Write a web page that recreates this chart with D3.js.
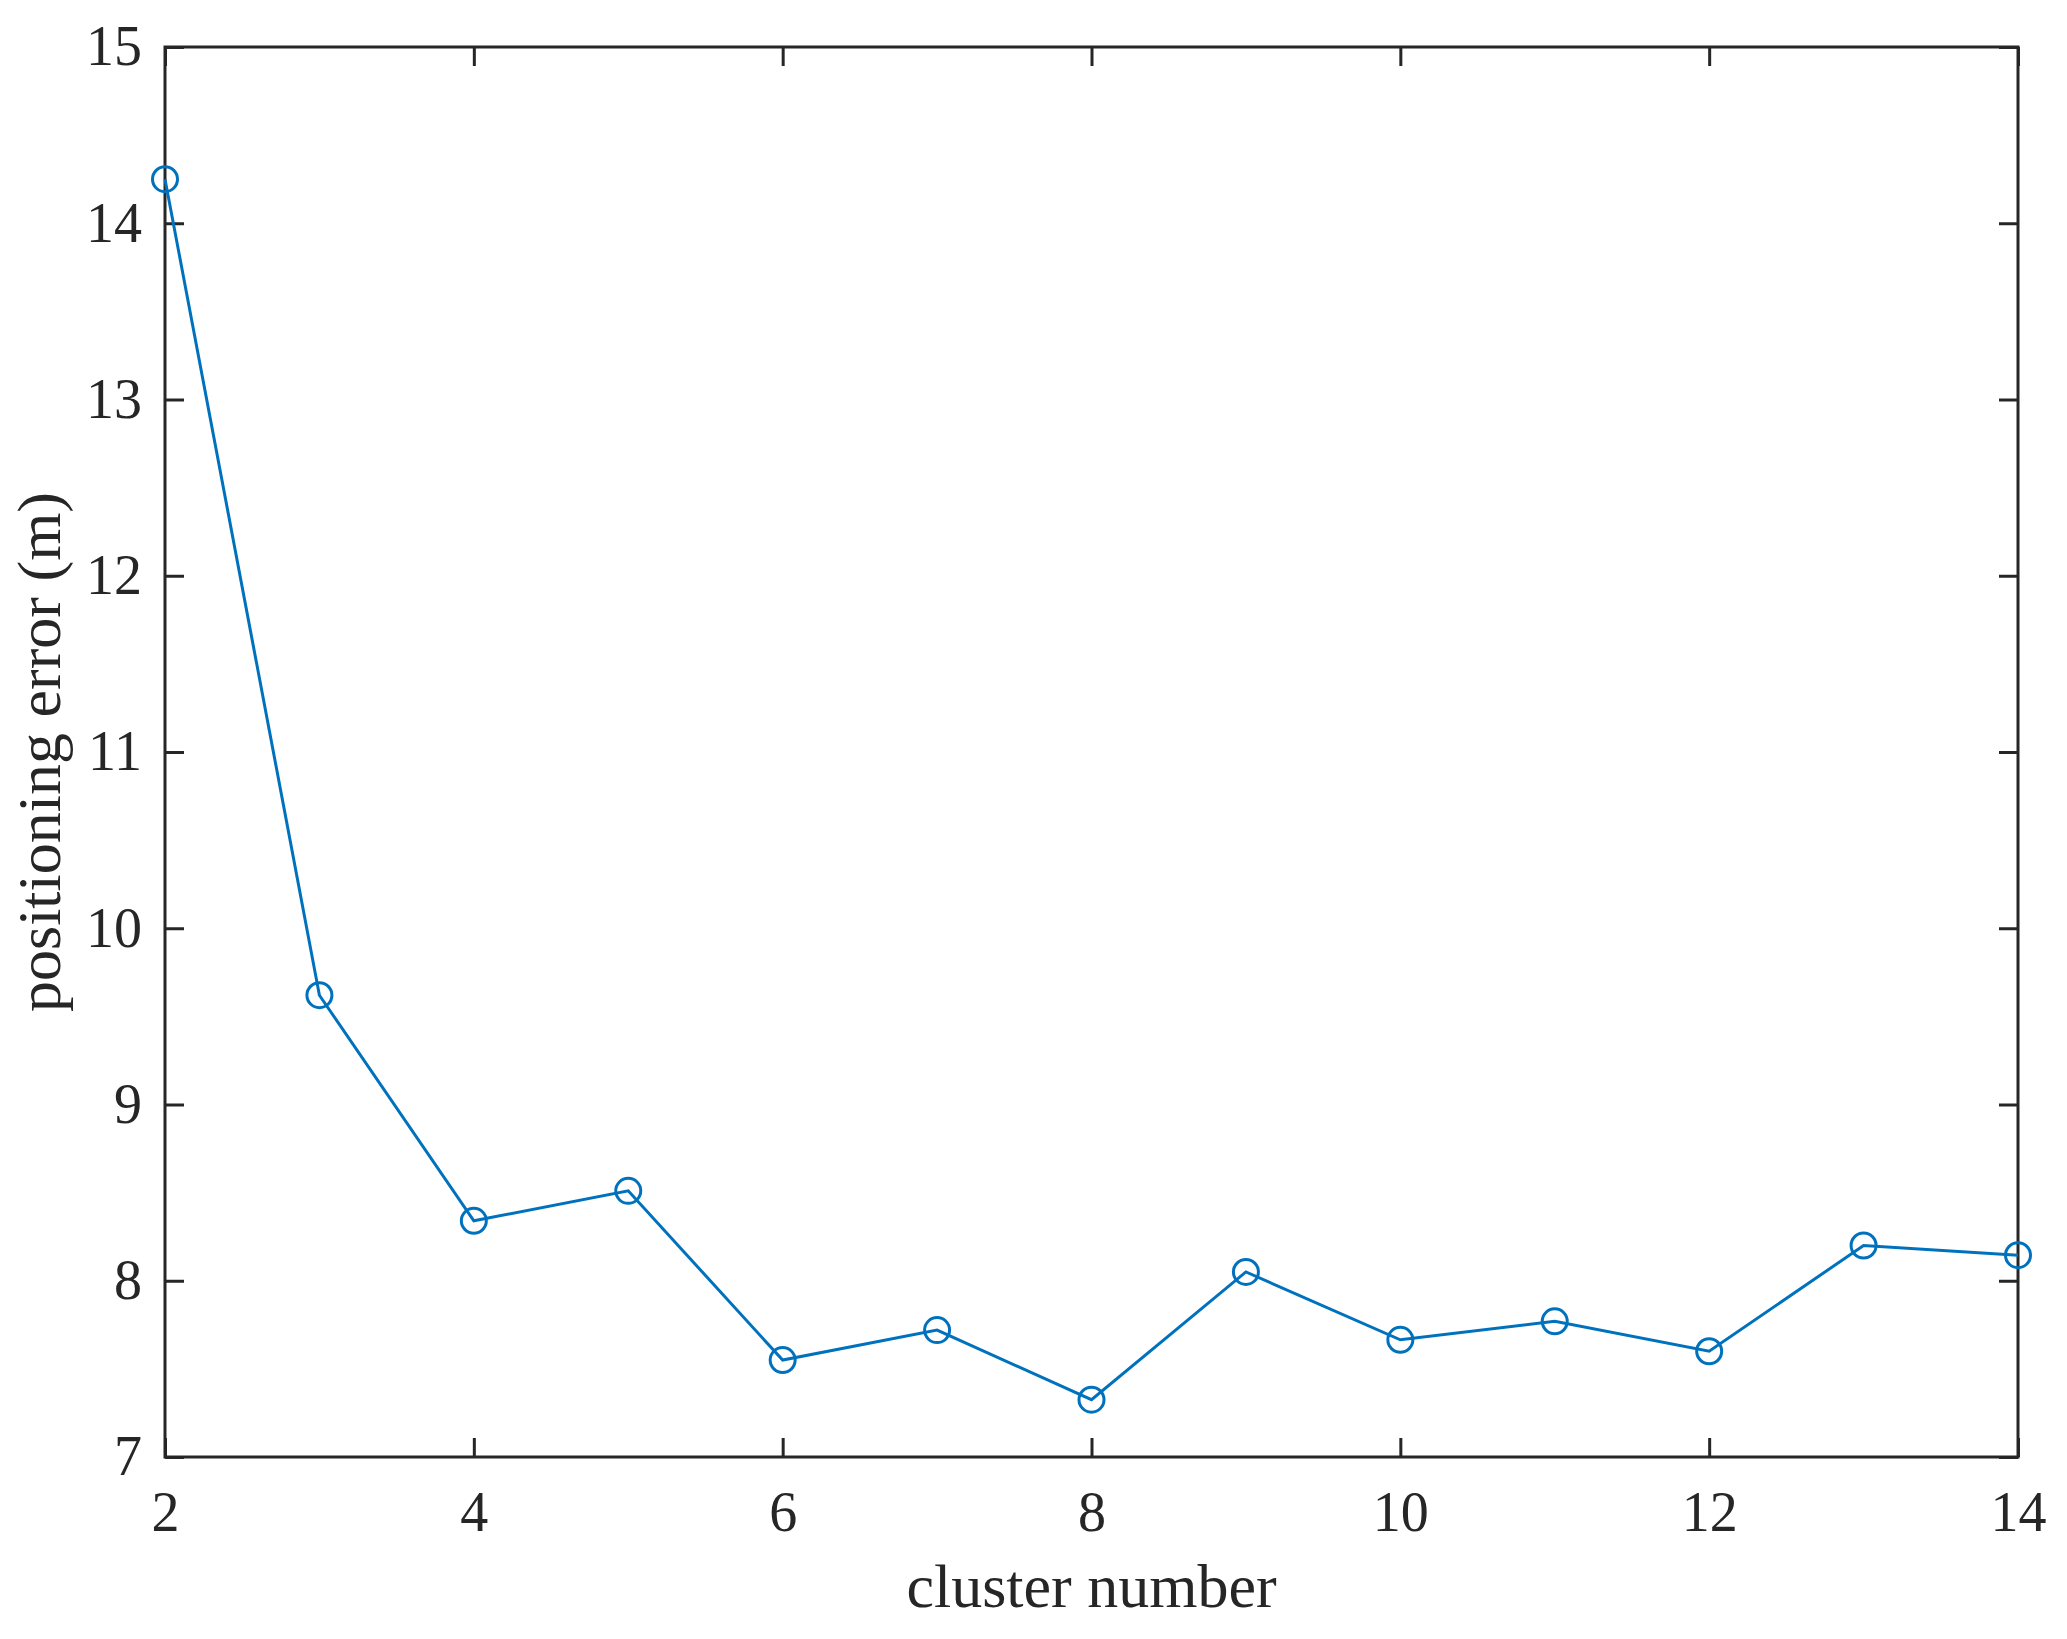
<!DOCTYPE html>
<html><head><meta charset="utf-8">
<script src="https://cdn.jsdelivr.net/npm/d3@7"></script>
<style>html,body{margin:0;padding:0;background:#fff;}</style>
</head><body>
<svg id="chart" width="2067" height="1639"></svg>
<script>
const clusterNumbers = [2,3,4,5,6,7,8,9,10,11,12,13,14];
const positioningError = [14.25,9.62,8.34,8.51,7.55,7.72,7.325,8.05,7.665,7.77,7.60,8.20,8.145];
const xTicks = [2,4,6,8,10,12,14];
const yTicks = [7,8,9,10,11,12,13,14,15];
const xLabel = "cluster number";
const yLabel = "positioning error (m)";

const L = 165, R = 2018, T = 47, B = 1457;
const axisColor = "#262626", lineColor = "#0072BD";
const font = "'Liberation Serif','Times New Roman',serif";
const svg = d3.select("#chart");
const x = d3.scaleLinear().domain([2,14]).range([L,R]);
const y = d3.scaleLinear().domain([7,15]).range([B,T]);
const tickLen = 19;

function styleAxis(g){
  g.select(".domain").remove();
  g.selectAll(".tick line").attr("stroke",axisColor).attr("stroke-width",3);
  g.selectAll(".tick text").attr("fill",axisColor).style("font-family",font).style("font-size","56px");
}
// bottom
svg.append("g").attr("transform",`translate(0,${B})`)
  .call(d3.axisBottom(x).tickValues(xTicks).tickSizeInner(-tickLen).tickSizeOuter(0).tickPadding(34).tickFormat(d3.format("d")))
  .call(styleAxis);
// top
svg.append("g").attr("transform",`translate(0,${T})`)
  .call(d3.axisTop(x).tickValues(xTicks).tickSizeInner(-tickLen).tickSizeOuter(0).tickFormat(""))
  .call(styleAxis);
// left
svg.append("g").attr("transform",`translate(${L},0)`)
  .call(d3.axisLeft(y).tickValues(yTicks).tickSizeInner(-tickLen).tickSizeOuter(0).tickPadding(23).tickFormat(d3.format("d")))
  .call(styleAxis);
// right
svg.append("g").attr("transform",`translate(${R},0)`)
  .call(d3.axisRight(y).tickValues(yTicks).tickSizeInner(-tickLen).tickSizeOuter(0).tickFormat(""))
  .call(styleAxis);

svg.append("rect").attr("x",L).attr("y",T).attr("width",R-L).attr("height",B-T)
  .attr("fill","none").attr("stroke",axisColor).attr("stroke-width",3);

const data = clusterNumbers.map((c,i)=>({c, v: positioningError[i]}));
svg.append("path").datum(data)
  .attr("d", d3.line().x(d=>x(d.c)).y(d=>y(d.v)))
  .attr("fill","none").attr("stroke",lineColor).attr("stroke-width",3);
svg.selectAll("circle.m").data(data).enter().append("circle")
  .attr("class","m").attr("cx",d=>x(d.c)).attr("cy",d=>y(d.v)).attr("r",12.5)
  .attr("fill","none").attr("stroke",lineColor).attr("stroke-width",3);

svg.append("text").attr("x",(L+R)/2).attr("y",1607).attr("text-anchor","middle")
  .attr("fill",axisColor).style("font-family",font).style("font-size","62px").text(xLabel);
svg.append("text").attr("transform",`translate(60,${(T+B)/2}) rotate(-90)`).attr("text-anchor","middle")
  .attr("fill",axisColor).style("font-family",font).style("font-size","62px").text(yLabel);
</script>
</body></html>
